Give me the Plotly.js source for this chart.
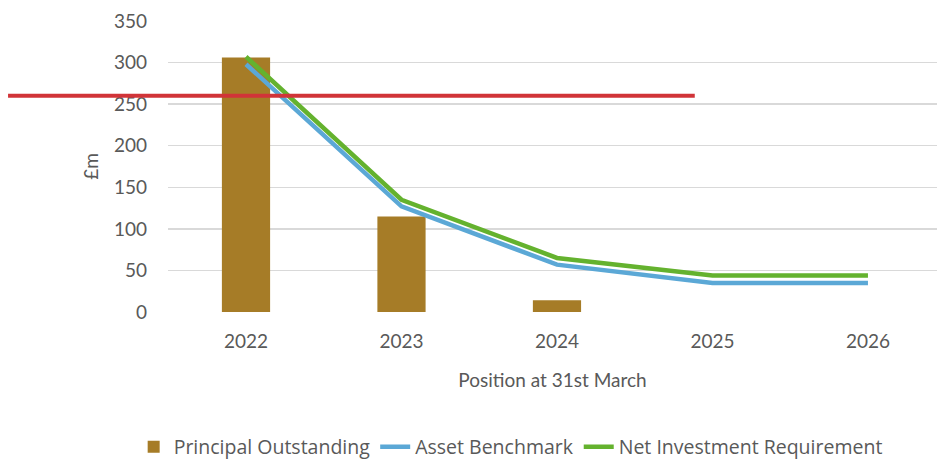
<!DOCTYPE html>
<html>
<head>
<meta charset="utf-8">
<script src="https://cdn.plot.ly/plotly-3.0.1.min.js"></script>
<style>html,body{margin:0;padding:0;background:#fff;}#chart{width:937px;height:461px;}</style>
</head>
<body>
<div id="chart"></div>
<script>
const years = ["2022", "2023", "2024", "2025", "2026"];
const principalOutstanding = [306, 115, 14, 0, 0];
const assetBenchmark = [298, 127, 57, 35, 35];
const netInvestmentRequirement = [307, 135, 65, 44, 44];
const yTicks = [0, 50, 100, 150, 200, 250, 300, 350];
const markerLineValue = 260;

const font = "Lato, 'Open Sans', sans-serif";
const legendFont = "'Open Sans', 'Noto Sans', sans-serif";
const textColor = "#595959";

const traces = [
  {
    type: "bar", name: "Principal Outstanding", x: years, y: principalOutstanding,
    marker: {color: "#a67c27"}, width: 0.31
  },
  {
    type: "scatter", mode: "lines", name: "Asset Benchmark", x: years, y: assetBenchmark,
    line: {color: "#5ba8d6", width: 4.5}
  },
  {
    type: "scatter", mode: "lines", name: "Net Investment Requirement", x: years, y: netInvestmentRequirement,
    line: {color: "#64b22e", width: 4.5}
  }
];

const layout = {
  width: 937, height: 461,
  margin: {l: 168, r: 0, t: 21, b: 149},
  paper_bgcolor: "#fff", plot_bgcolor: "#fff",
  font: {family: font, color: textColor, size: 18},
  showlegend: true,
  legend: {
    orientation: "h", xref: "container", yref: "container",
    x: 0.545, xanchor: "center", y: 0.03, yanchor: "middle",
    font: {family: legendFont, size: 19.5, color: textColor}, traceorder: "normal"
  },
  xaxis: {
    type: "category", range: [-0.5016, 4.444], automargin: false,
    showgrid: false, zeroline: false, showline: false, ticks: "",
    ticklabelstandoff: 16,
    tickfont: {family: font, size: 19, color: textColor},
    title: {text: "Position at 31st March", font: {family: font, size: 19, color: textColor}, standoff: 22}
  },
  yaxis: {
    range: [0, 350], tickvals: yTicks, ticktext: yTicks.map(String), automargin: false,
    showgrid: true, gridcolor: "#d9d9d9", gridwidth: 1.5,
    zeroline: false, showline: false, ticks: "",
    ticklabelstandoff: 20,
    tickfont: {family: font, size: 19, color: textColor},
    title: {text: "£m", font: {family: font, size: 19, color: textColor}, standoff: 10}
  },
  shapes: [
    {
      type: "line", xref: "paper", yref: "y",
      x0: -0.208, x1: 0.685, y0: markerLineValue, y1: markerLineValue,
      line: {color: "#d13438", width: 4}
    }
  ]
};

Plotly.newPlot("chart", traces, layout, {displayModeBar: false, staticPlot: true});
</script>
</body>
</html>
